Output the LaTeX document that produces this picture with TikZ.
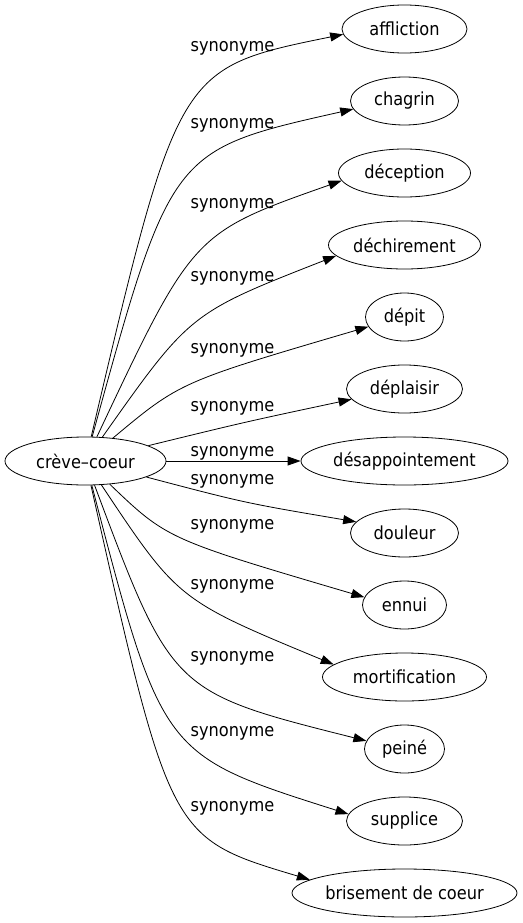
\documentclass[tikz,border=0pt]{standalone}
\usepackage{fontspec}
\setmainfont{DejaVu Sans}[FakeStretch=0.9]
\usetikzlibrary{arrows.meta,shapes.geometric}

\begin{document}
\begin{tikzpicture}[x=1pt,y=-1pt,
    word/.style={draw,ellipse,line width=0.8pt,inner sep=0pt,minimum height=48pt,font=\fontsize{18}{21}\selectfont},
    syn/.style={inner sep=0pt,font=\fontsize{18}{21}\selectfont},
    rel/.style={line width=0.8pt,-{Triangle[length=13pt,width=9pt]}}]
    \useasboundingbox (0,0) rectangle (522,923);
    \node[word,minimum width=161pt] (cc) at (85.5,461) {crève–coeur};
    \node[word,minimum width=125pt] (affliction) at (404.5,29) {affliction};
    \node[word,minimum width=108pt] (chagrin) at (404.5,101) {chagrin};
    \node[word,minimum width=132pt] (deception) at (404.5,173) {déception};
    \node[word,minimum width=152pt] (dechirement) at (404.5,245) {déchirement};
    \node[word,minimum width=78pt] (depit) at (404.5,317) {dépit};
    \node[word,minimum width=116pt] (deplaisir) at (404.5,389) {déplaisir};
    \node[word,minimum width=207pt] (desappointement) at (404.5,461) {désappointement};
    \node[word,minimum width=108pt] (douleur) at (404.5,533) {douleur};
    \node[word,minimum width=84pt] (ennui) at (404.5,605) {ennui};
    \node[word,minimum width=164pt] (mortification) at (404.5,677) {mortification};
    \node[word,minimum width=80pt] (peine) at (404.5,749) {peiné};
    \node[word,minimum width=116pt] (supplice) at (404.5,821) {supplice};
    \node[word,minimum width=225pt] (brisement) at (404.5,893) {brisement de coeur};
    % upper edges
    \draw[rel] (cc) .. controls (178,68) .. (affliction.185);
    \draw[rel] (cc) .. controls (171,150) .. (chagrin.189);
    \draw[rel] (cc) .. controls (193,233) .. (deception.187);
    \draw[rel] (cc) .. controls (190,313) .. (dechirement.189);
    \draw[rel] (cc) .. controls (180,382) .. (depit.195);
    \draw[rel] (cc) .. controls (245,422) .. (deplaisir.191);
    \draw[rel] (cc) -- (desappointement);
    % lower edges
    \draw[rel] (cc) .. controls (245,503) .. (douleur.167);
    \draw[rel] (cc) .. controls (167,539) .. (ennui.169);
    \draw[rel] (cc) .. controls (178,600) .. (mortification.170);
    \draw[rel] (cc) .. controls (172,692) .. (peine.168);
    \draw[rel] (cc) .. controls (162,755) .. (supplice.173);
    \draw[rel] (cc) .. controls (170,838) .. (brisement.172);
    \node[syn] (s1) at (232.5,48) {synonyme};
    \node[syn] (s2) at (232.5,125) {synonyme};
    \node[syn] (s3) at (232.5,205) {synonyme};
    \node[syn] (s4) at (232.5,278) {synonyme};
    \node[syn] (s5) at (232.5,350) {synonyme};
    \node[syn] (s6) at (232.5,408) {synonyme};
    \node[syn] (s7) at (232.5,453) {synonyme};
    \node[syn] (s8) at (232.5,481) {synonyme};
    \node[syn] (s9) at (232.5,526) {synonyme};
    \node[syn] (s10) at (232.5,586) {synonyme};
    \node[syn] (s11) at (232.5,658) {synonyme};
    \node[syn] (s12) at (232.5,733) {synonyme};
    \node[syn] (s13) at (232.5,808) {synonyme};
\end{tikzpicture}
\end{document}
